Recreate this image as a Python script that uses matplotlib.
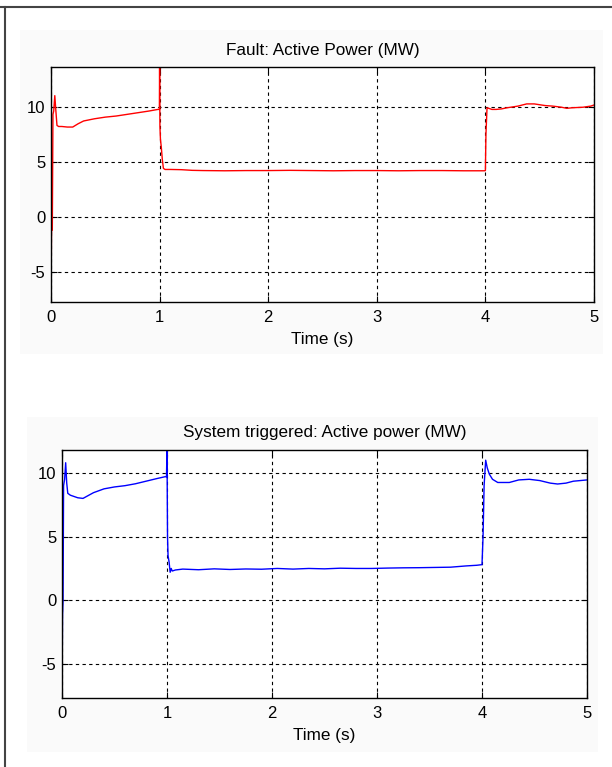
import matplotlib
matplotlib.use('Agg')
import matplotlib.pyplot as plt
from matplotlib.patches import Rectangle
from matplotlib.lines import Line2D

plt.rcParams['font.family'] = ['Liberation Sans', 'DejaVu Sans']
plt.rcParams['font.size'] = 12
plt.rcParams['axes.unicode_minus'] = False

# fault case (red)
t_fault = [0.0, 0.004, 0.008, 0.012, 0.018, 0.025, 0.035, 0.045, 0.055, 0.07,
           0.1, 0.15, 0.2, 0.25, 0.3, 0.35, 0.4, 0.5, 0.6, 0.7, 0.8, 0.9, 0.985,
           0.998, 1.0, 1.003, 1.008, 1.015, 1.025, 1.035, 1.05, 1.1, 1.2, 1.3,
           1.4, 1.6, 1.8, 2.0, 2.2, 2.4, 2.6, 2.8, 3.0, 3.2, 3.4, 3.6, 3.8, 3.99,
           4.0, 4.005, 4.015, 4.03, 4.06, 4.1, 4.15, 4.2, 4.3, 4.38, 4.45, 4.55,
           4.62, 4.7, 4.75, 4.8, 4.9, 4.97, 5.0]
p_fault = [-7.73, -2.0, 0.5, -1.2, 9.3, 9.6, 11.0, 9.6, 8.3, 8.2,
           8.2, 8.15, 8.15, 8.45, 8.7, 8.8, 8.9, 9.05, 9.15, 9.3, 9.45, 9.6, 9.75,
           9.75, 13.6, 8.2, 7.0, 6.4, 5.2, 4.4, 4.3, 4.3, 4.28, 4.22,
           4.2, 4.18, 4.2, 4.2, 4.22, 4.2, 4.18, 4.2, 4.2, 4.18, 4.2, 4.2, 4.18, 4.18,
           4.2, 7.5, 9.9, 9.85, 9.75, 9.75, 9.8, 9.9, 10.05, 10.25, 10.25, 10.1,
           10.05, 9.95, 9.85, 9.9, 9.95, 10.05, 10.15]

# system triggered case (blue)
t_trig = [0.0, 0.005, 0.01, 0.015, 0.025, 0.035, 0.045, 0.055, 0.08, 0.15,
          0.2, 0.3, 0.4, 0.5, 0.6, 0.7, 0.8, 0.9, 0.98, 0.995, 1.0, 1.005, 1.01,
          1.02, 1.03, 1.04, 1.05, 1.08, 1.15, 1.3, 1.45, 1.6, 1.75, 1.9, 2.05,
          2.2, 2.35, 2.5, 2.65, 2.8, 2.95, 3.1, 3.25, 3.4, 3.55, 3.7, 3.85, 3.95,
          4.0, 4.01, 4.02, 4.035, 4.05, 4.07, 4.1, 4.15, 4.26, 4.35, 4.45, 4.55,
          4.65, 4.72, 4.8, 4.87, 5.0]
p_trig = [-7.67, -1.2, 0.0, 9.0, 9.5, 10.8, 9.2, 8.4, 8.25, 8.05,
          8.0, 8.45, 8.75, 8.9, 9.0, 9.15, 9.35, 9.55, 9.7, 9.7, 11.8, 5.0, 3.5,
          3.0, 2.2, 2.5, 2.3, 2.38, 2.45, 2.4, 2.47, 2.42, 2.46, 2.44, 2.5,
          2.45, 2.5, 2.47, 2.52, 2.5, 2.5, 2.53, 2.55, 2.56, 2.58, 2.6, 2.7, 2.75,
          2.8, 5.0, 9.0, 11.0, 10.4, 9.9, 9.5, 9.25, 9.25, 9.45, 9.5, 9.4,
          9.2, 9.13, 9.2, 9.35, 9.45]

W, H = 612, 767
fig = plt.figure(figsize=(W / 100, H / 100), dpi=100)

# light panels behind the axes
for x0, y0, x1, y1 in [(20, 30, 603, 354), (27, 417, 598, 752)]:
    fig.patches.append(Rectangle((x0 / W, 1 - y1 / H), (x1 - x0) / W, (y1 - y0) / H,
                                 transform=fig.transFigure, facecolor='#fafafa',
                                 edgecolor='none', zorder=-5))
# window frame lines
fig.lines.append(Line2D([0, 1], [1 - 7 / H, 1 - 7 / H], transform=fig.transFigure,
                        color='#444444', lw=1.5))
fig.lines.append(Line2D([4.5 / W, 4.5 / W], [0, 1 - 7 / H], transform=fig.transFigure,
                        color='#444444', lw=1.5))


def px_axes(l, t, r, b):
    return fig.add_axes([l / W, 1 - b / H, (r - l) / W, (b - t) / H])


def style(ax, t, p, color, title):
    ax.plot(t, p, color=color, lw=1.0)
    ax.set_xlim(0, 5)
    ax.set_ylim(min(p), max(p))
    ax.set_xticks([0, 1, 2, 3, 4, 5])
    ax.set_yticks([-5, 0, 5, 10])
    ax.grid(True, color='black', linestyle=(0, (3, 3)), lw=0.8)
    ax.tick_params(direction='in', length=4, top=True, right=True,
                   labelsize=12, pad=4)
    ax.tick_params(axis='x', pad=6)
    for s in ax.spines.values():
        s.set_linewidth(1.0)
    ax.set_title(title, fontsize=12.3, pad=9)
    ax.set_xlabel('Time (s)', fontsize=12.3, labelpad=5)


ax1 = px_axes(51, 67, 594, 302)
style(ax1, t_fault, p_fault, 'red', 'Fault: Active Power (MW)')

ax2 = px_axes(62, 450, 587, 698)
style(ax2, t_trig, p_trig, 'blue', 'System triggered: Active power (MW)')

plt.savefig('out.png', dpi=100)
